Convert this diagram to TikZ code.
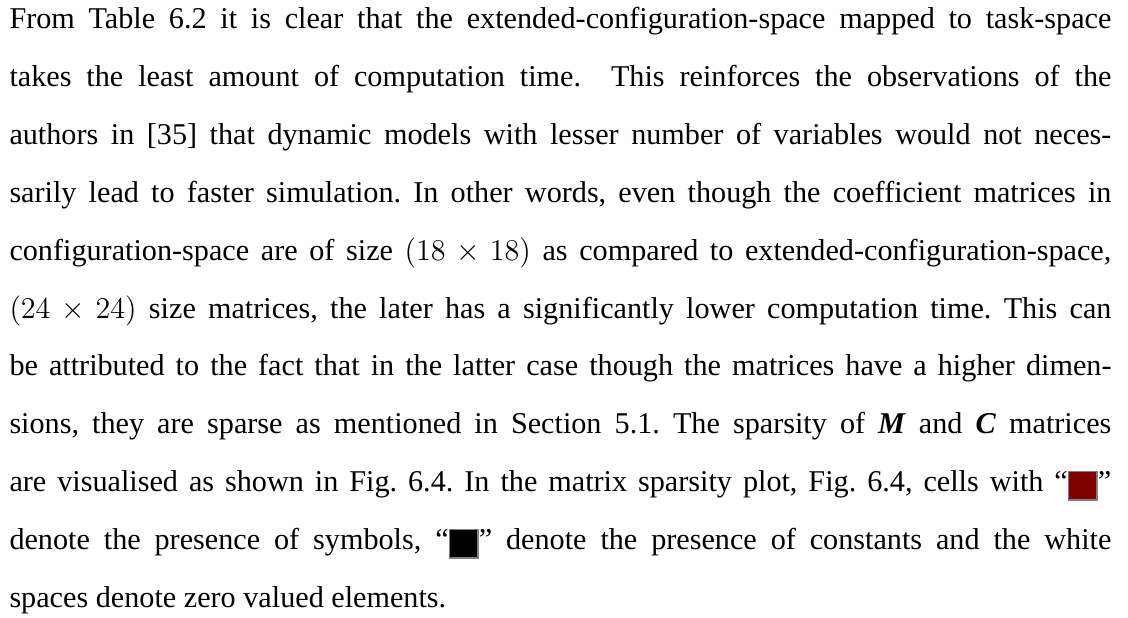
\documentclass[tikz,border=0pt]{standalone}
\usepackage{fontspec}
\usepackage{amsmath}
\setmainfont{Liberation Serif}
\definecolor{symred}{HTML}{800000}
\newcommand\cellsq[1]{\raisebox{-3.2pt}{\setlength\fboxsep{0pt}\setlength\fboxrule{0.6pt}\fcolorbox{gray}{#1}{\rule{0pt}{10.8pt}\rule{10.8pt}{0pt}}}}
\newcommand\bvar[1]{\textbf{\textit{#1}}}
\tikzset{
  txt/.style={anchor=base west, inner sep=0pt, font=\fontsize{12}{14}\selectfont\frenchspacing},
}
\newcommand\jline[1]{\makebox[438pt][s]{#1}}
\begin{document}
\begin{tikzpicture}[x=0.3975pt, y=-0.3975pt]
\useasboundingbox (0,0) rectangle (1128,618);
\node[txt] (l1) at (9,29) {\jline{From Table 6.2 it is clear that the extended-configuration-space mapped to task-space}};
\node[txt] (l2) at (9,86.8) {\jline{takes the least amount of computation time.\ \ This reinforces the observations of the}};
\node[txt] (l3) at (9,144.6) {\jline{authors in [35] that dynamic models with lesser number of variables would not neces-}};
\node[txt] (l4) at (9,202.4) {\jline{sarily lead to faster simulation. In other words, even though the coefficient matrices in}};
\node[txt] (l5) at (9,260.2) {\jline{configuration-space are of size $(18 \times 18)$ as compared to extended-configuration-space,}};
\node[txt] (l6) at (9,318) {\jline{$(24 \times 24)$ size matrices, the later has a significantly lower computation time. This can}};
\node[txt] (l7) at (9,375.8) {\jline{be attributed to the fact that in the latter case though the matrices have a higher dimen-}};
\node[txt] (l8) at (9,433.6) {\jline{sions, they are sparse as mentioned in Section 5.1. The sparsity of \bvar{M} and \bvar{C} matrices}};
\node[txt] (l9) at (9,491.4) {\jline{are visualised as shown in Fig. 6.4. In the matrix sparsity plot, Fig. 6.4, cells with ``\cellsq{symred}''}};
\node[txt] (l10) at (9,549.2) {\jline{denote the presence of symbols, ``\cellsq{black}'' denote the presence of constants and the white}};
\node[txt] (l11) at (9,607) {spaces denote zero valued elements.};
\end{tikzpicture}
\end{document}
